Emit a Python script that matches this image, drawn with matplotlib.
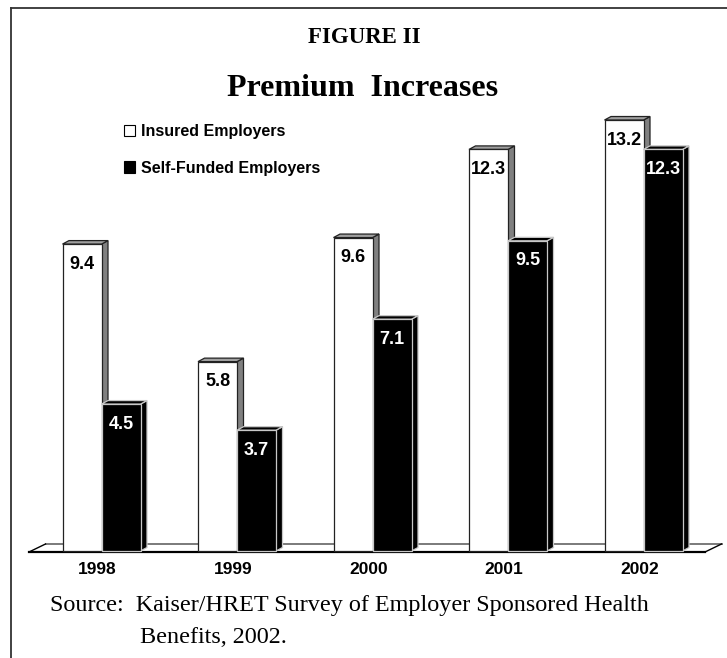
import matplotlib
matplotlib.use("Agg")
import matplotlib.pyplot as plt
from matplotlib.patches import Rectangle, Polygon, Patch
from matplotlib.lines import Line2D

# ---- data ----
years = ["1998", "1999", "2000", "2001", "2002"]
insured = [9.4, 5.8, 9.6, 12.3, 13.2]
self_funded = [4.5, 3.7, 7.1, 9.5, 12.3]
series_names = ["Insured Employers", "Self-Funded Employers"]

W, H = 727, 658
fig = plt.figure(figsize=(W / 100, H / 100), dpi=100)
fig.patch.set_facecolor("white")

# axes placement (pixel-based layout)
px_step = 135.5
left_px = 101.5 - 0.5 * px_step
ymax = 15.0
px_per_unit = 32.65
bottom_px = H - 551
ax = fig.add_axes([left_px / W, bottom_px / H, 5 * px_step / W, ymax * px_per_unit / H])
ax.set_xlim(-0.5, 4.5)
ax.set_ylim(0, ymax)
ax.axis("off")

# conversions
ux = 1.0 / px_step
uy = 1.0 / px_per_unit
bw = 39 * ux
ddx, ddy = 6.5 * ux, 3.5 * uy

# floor
fx0, fx1 = -0.535, 4.454
fy = -1 * uy
fdx, fdy = 16.5 * ux, 8 * uy
floor = Polygon([(fx0, fy), (fx1, fy), (fx1 + fdx, fy + fdy), (fx0 + fdx, fy + fdy)],
                closed=True, facecolor="white", edgecolor="none", clip_on=False, zorder=1)
ax.add_patch(floor)
ax.plot([fx0 + fdx, fx1 + fdx], [fy + fdy, fy + fdy], color="#707070", lw=1.3, clip_on=False, zorder=1.5)
ax.plot([fx0, fx1], [fy, fy], color="black", lw=1.6, clip_on=False, zorder=1.5)
ax.plot([fx0, fx0 + fdx], [fy, fy + fdy], color="black", lw=1.0, clip_on=False, zorder=1.5)
ax.plot([fx1, fx1 + fdx], [fy, fy + fdy], color="black", lw=1.0, clip_on=False, zorder=1.5)


def bar3d(x0, v, face, side, top, edge, z):
    ax.add_patch(Polygon([(x0 + bw, 0), (x0 + bw + ddx, ddy), (x0 + bw + ddx, v + ddy), (x0 + bw, v)],
                         closed=True, facecolor=side, edgecolor=edge, lw=0.9, clip_on=False, zorder=z))
    ax.add_patch(Polygon([(x0, v), (x0 + ddx, v + ddy), (x0 + bw + ddx, v + ddy), (x0 + bw, v)],
                         closed=True, facecolor=top, edgecolor=edge, lw=0.9, clip_on=False, zorder=z))
    ax.add_patch(Rectangle((x0, 0), bw, v, facecolor=face, edgecolor=edge, lw=0.9, clip_on=False, zorder=z))


lab_font = dict(family="Liberation Sans", weight="bold", fontsize=13)
for i, (a, b) in enumerate(zip(insured, self_funded)):
    z = 3 + i * 2
    bar3d(i - bw, a, "white", "#808080", "#a0a0a0", "#222222", z)
    ax.text(i - bw / 2, a - 20 * uy, f"{a:.1f}", ha="center", va="center", color="black",
            zorder=z + 0.5, **lab_font)
    bar3d(i, b, "black", "black", "black", "#c8c8c8", z + 1)
    ax.text(i + bw / 2, b - 20 * uy, f"{b:.1f}", ha="center", va="center", color="white",
            zorder=z + 1.5, **lab_font)
    ax.text(i - 4 * ux, -18.5 * uy, years[i], ha="center", va="center", color="black",
            family="Liberation Sans", weight="bold", fontsize=12.5, clip_on=False)

# titles
fig.text(364 / W, 1 - 43 / H, "FIGURE II", ha="center", va="baseline",
         family="Liberation Serif", weight="bold", fontsize=16.5)
fig.text(363 / W, 1 - 96 / H, "Premium  Increases", ha="center", va="baseline",
         family="Liberation Serif", weight="bold", fontsize=23)

# legend
handles = [Patch(facecolor="white", edgecolor="black", lw=0.8),
           Patch(facecolor="black", edgecolor="black", lw=0.8)]
fig.legend(handles, series_names, loc="upper left", bbox_to_anchor=(124 / W, 1 - 124 / H),
           frameon=False, handlelength=0.7, handleheight=0.7, handletextpad=0.35,
           labelspacing=1.35, borderpad=0, borderaxespad=0,
           prop=dict(family="Liberation Sans", weight="bold", size=11.5))

# source
fig.text(50 / W, 1 - 611 / H, "Source:  Kaiser/HRET Survey of Employer Sponsored Health",
         ha="left", va="baseline", family="Liberation Serif", fontsize=17.4)
fig.text(140 / W, 1 - 643 / H, "Benefits, 2002.",
         ha="left", va="baseline", family="Liberation Serif", fontsize=17.4)

# frame
fig.add_artist(Line2D([10.5 / W, 1.0], [1 - 7.5 / H, 1 - 7.5 / H], color="#333333", lw=1.3))
fig.add_artist(Line2D([10.5 / W, 10.5 / W], [0, 1 - 7.5 / H], color="#333333", lw=1.3))

fig.savefig("out.png", dpi=100, facecolor="white")
